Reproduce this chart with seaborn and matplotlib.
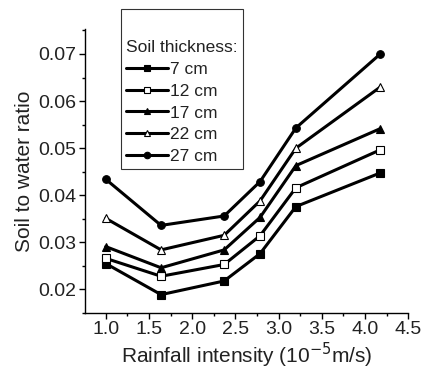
import matplotlib
matplotlib.use("Agg")
import matplotlib.pyplot as plt
import seaborn as sns
import pandas as pd
from matplotlib.ticker import MultipleLocator

rain = [1.0, 1.64, 2.37, 2.785, 3.20, 4.17]
labels = ["7 cm", "12 cm", "17 cm", "22 cm", "27 cm"]
v7 = [0.0255, 0.0189, 0.0218, 0.0276, 0.0376, 0.0447]
v12 = [0.0266, 0.0228, 0.0253, 0.0314, 0.0416, 0.0496]
v17 = [0.0291, 0.0246, 0.0284, 0.0353, 0.0463, 0.0541]
v22 = [0.0351, 0.0284, 0.0315, 0.0388, 0.0500, 0.0629]
v27 = [0.0434, 0.0336, 0.0356, 0.0429, 0.0543, 0.0699]
series = [v7, v12, v17, v22, v27]
markers = ["s", "s", "^", "^", "o"]
faces = ["black", "white", "black", "white", "black"]

sns.set_style("ticks")
plt.rcParams["font.family"] = ["Liberation Sans", "DejaVu Sans"]

fig = plt.figure(figsize=(4.22, 3.72), dpi=100)
ax = fig.add_axes([85/422, 1-313/372, (408.3-85)/422, (313-29)/372])

handles = []
for lab, vals, m, fc in zip(labels, series, markers, faces):
    df = pd.DataFrame({"x": rain, "y": vals})
    sns.lineplot(data=df, x="x", y="y", ax=ax, color="black", linewidth=2.2,
                 marker=m, markersize=5.5, markerfacecolor=fc,
                 markeredgecolor="black", markeredgewidth=0.8, label=lab, legend=False)
    handles.append(ax.lines[-1])

ax.set_xlim(0.76, 4.5)
ax.set_ylim(0.015, 0.0753)
ax.xaxis.set_minor_locator(MultipleLocator(0.25))
ax.yaxis.set_minor_locator(MultipleLocator(0.005))
ax.set_xticks([1.0, 1.5, 2.0, 2.5, 3.0, 3.5, 4.0, 4.5])
ax.set_xticklabels(["1.0", "1.5", "2.0", "2.5", "3.0", "3.5", "4.0", "4.5"])
ax.set_yticks([0.02, 0.03, 0.04, 0.05, 0.06, 0.07])
ax.set_yticklabels(["0.02", "0.03", "0.04", "0.05", "0.06", "0.07"])
ax.tick_params(axis="both", which="major", length=4, width=1, labelsize=14,
               direction="out", pad=2, colors="black", labelcolor="#222222")
ax.tick_params(axis="both", which="minor", length=2.5, width=1, direction="out", colors="black")
for s in ["top", "right"]:
    ax.spines[s].set_visible(False)
for s in ["left", "bottom"]:
    ax.spines[s].set_linewidth(1)
    ax.spines[s].set_color("black")

ax.set_xlabel("Rainfall intensity (10$^{-5}$m/s)", fontsize=15, labelpad=2, color="#222222")
ax.set_ylabel("Soil to water ratio", fontsize=15, labelpad=3, color="#222222")

leg = fig.legend(handles=handles, labels=labels, title="\nSoil thickness:",
                 loc="upper left", bbox_to_anchor=(120.7/422, 1-9.3/372),
                 borderaxespad=0, fontsize=12.5, title_fontsize=12.5,
                 frameon=True, fancybox=False, edgecolor="black",
                 handlelength=2.4, handletextpad=0.15, labelspacing=0.38,
                 borderpad=0.3, markerscale=0.85)
leg.get_title().set_linespacing(1.9)
leg.get_frame().set_linewidth(0.8)
leg._legend_box.align = "left"
for t in leg.get_texts():
    t.set_color("#222222")
leg.get_title().set_color("#222222")

fig.savefig("out.png", dpi=100)
